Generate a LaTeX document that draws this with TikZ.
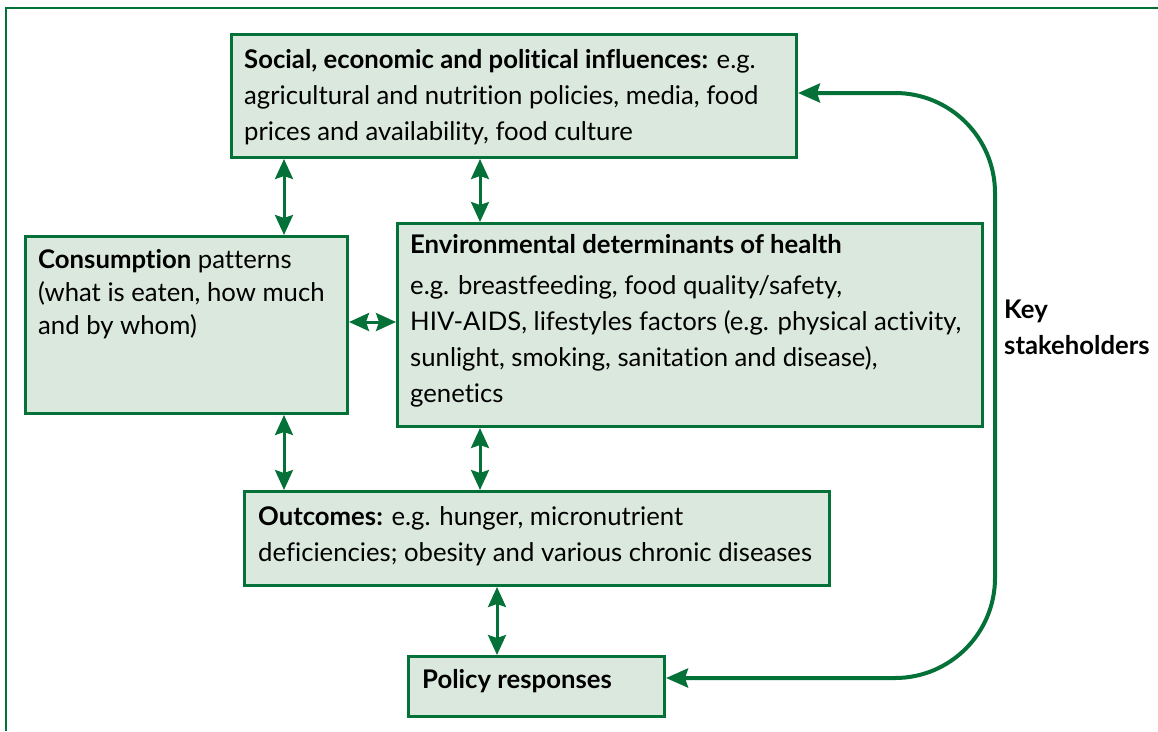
\documentclass[tikz,border=0pt]{standalone}
\usepackage{fontspec}
\setmainfont{Lato}[Ligatures={NoCommon}]
\usetikzlibrary{arrows.meta}
\definecolor{dgreen}{RGB}{4,114,56}
\definecolor{lgreen}{RGB}{219,232,222}
\begin{document}
\begin{tikzpicture}[x=1pt,y=-1pt,
  box/.style={draw=dgreen,fill=lgreen,line width=3pt,anchor=north west,inner sep=0pt},
  txt/.style={anchor=north west,inner sep=0pt,align=left,font=\fontsize{25.7}{36}\selectfont},
  dar/.style={dgreen,line width=3pt,{Stealth[length=20pt,width=18pt,inset=3pt]}-{Stealth[length=20pt,width=18pt,inset=3pt]}},
  car/.style={dgreen,line width=4pt,{Stealth[length=22pt,width=19pt,inset=3pt]}-{Stealth[length=22pt,width=19pt,inset=3pt]},rounded corners=100pt},
  frame/.style={dgreen,line width=1.8pt}]
\useasboundingbox (0,0) rectangle (1158,731);
\draw[frame] (1158,8) -- (6,8) -- (6,731);
% boxes
\node[box,minimum width=565pt,minimum height=123pt] (social) at (230,33) {};
\node[box,minimum width=322pt,minimum height=177pt] (cons) at (24,235) {};
\node[box,minimum width=585pt,minimum height=203pt] (env) at (396,222) {};
\node[box,minimum width=585pt,minimum height=94pt] (out) at (243,490) {};
\node[box,minimum width=256pt,minimum height=60pt] (pol) at (407,655) {};
% texts
\node[txt] (social-t) at (244,42.8) {\strut\textbf{Social, economic and political influences:} e.g.\\agricultural and nutrition policies, media, food\\prices and availability, food culture};
\node[txt,font=\fontsize{25.7}{33}\selectfont] (cons-t) at (38,244.9) {\strut\textbf{Consumption} patterns\\(what is eaten, how much\\and by whom)};
\node[txt] (env-t) at (410,227.8) {\strut\textbf{Environmental determinants of health}\\[5pt]e.g. breastfeeding, food quality/safety,\\HIV-AIDS, lifestyles factors (e.g. physical activity,\\sunlight, smoking, sanitation and disease),\\genetics};
\node[txt] (out-t) at (258,499.8) {\strut\textbf{Outcomes:} e.g. hunger, micronutrient\\deficiencies; obesity and various chronic diseases};
\node[txt] (pol-t) at (422,662.8) {\strut\textbf{Policy responses}};
\node[txt] (key) at (1004,292.8) {\strut\textbf{Key}\\\textbf{stakeholders}};
% connectors
\coordinate (xa) at (284,0);
\coordinate (xb) at (480,0);
\coordinate (xc) at (497,0);
\coordinate (yh) at (0,322);
\coordinate (k1) at (995,93);
\coordinate (k2) at (995,678);
\draw[dar] (social.south -| xa) -- (cons.north -| xa);
\draw[dar] (social.south -| xb) -- (env.north -| xb);
\draw[dar] (cons.east |- yh) -- (env.west |- yh);
\draw[dar] (cons.south -| xa) -- (out.north -| xa);
\draw[dar] (env.south -| xb) -- (out.north -| xb);
\draw[dar] (out.south -| xc) -- (pol.north -| xc);
\draw[car] (social.east |- k1) -- (k1) -- (k2) -- (pol.east |- k2);
\end{tikzpicture}
\end{document}
